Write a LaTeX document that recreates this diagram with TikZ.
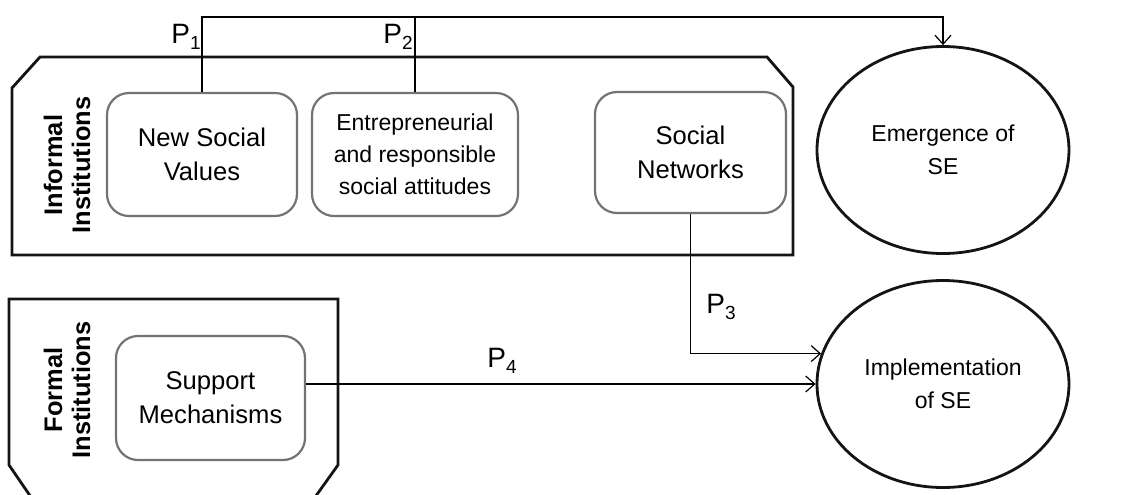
\documentclass[tikz,border=0pt]{standalone}
\usepackage{fontspec}
\setmainfont{Liberation Sans}
\usetikzlibrary{arrows.meta,shapes.geometric}
\definecolor{box_gray}{RGB}{115,115,115}
\definecolor{line_black}{RGB}{20,20,20}
\newcommand{\pname}[1]{P\raisebox{-0.42ex}{\fontsize{9.5}{9.5}\selectfont #1}}

\begin{document}
\begin{tikzpicture}[x=0.5pt,y=-0.5pt,>={Straight Barb[length=4.5pt,width=8pt]}]
    \tikzstyle{inner}=[draw=box_gray, line width=1.1pt, rounded corners=11pt, align=center, inner sep=0pt, font=\fontsize{12.8}{17}\selectfont]
    \tikzstyle{goal}=[draw=line_black, line width=1.4pt, ellipse, inner sep=0pt, minimum width=126pt, minimum height=103.5pt, align=center, font=\fontsize{11.5}{16.5}\selectfont]
    \tikzstyle{group}=[draw=line_black, line width=1.4pt]
    \tikzstyle{side}=[rotate=90, align=center, inner sep=0pt, font=\fontsize{12.7}{14}\selectfont\bfseries]
    \tikzstyle{plabel}=[font=\fontsize{14}{14}\selectfont, inner sep=0pt]
    \tikzstyle{link}=[->, line width=0.6pt]

    \useasboundingbox (0,0) rectangle (1148,494);

    % institution groups
    \draw[group] (12,255) -- (12,88) -- (40,57) -- (767,57) -- (793,87) -- (793,255) -- cycle;
    \draw[group] (33,500) -- (9,465) -- (9,299) -- (338,299) -- (338,465) -- (313,500);

    \node[side] (informal) at (67,165) {Informal\\Institutions};
    \node[side] (formal)   at (67,390) {Formal\\Institutions};

    \node[inner, minimum width=95pt, minimum height=61.5pt] (nsv)  at (202,154.5) {New Social\\Values};
    \node[inner, minimum width=103pt, minimum height=61.5pt, font=\fontsize{11.5}{16}\selectfont] (ersa) at (415,154.5) {Entrepreneurial\\and responsible\\social attitudes};
    \node[inner, minimum width=95.5pt, minimum height=60.5pt] (sn)   at (690.5,152.5) {Social\\Networks};
    \node[inner, minimum width=94.5pt, minimum height=62pt] (sm)   at (210.5,398) {Support\\Mechanisms};

    \node[goal] (emerge) at (943,150) {Emergence of\\SE};
    \node[goal] (impl)   at (943,384) {Implementation\\of SE};

    \coordinate (top) at (943,17);

    \draw[link] (nsv.north) |- (top) -- (emerge.north);
    \draw[line width=0.6pt] (ersa.north) -- (ersa.north |- top);
    \draw[link] (sn.south) |- (impl.166);
    \draw[link] (sm.east |- impl.west) -- (impl.west);

    \node[plabel, anchor=base east] (p1) at (201,43)  {\pname{1}};
    \node[plabel, anchor=base east] (p2) at (413,43)  {\pname{2}};
    \node[plabel, anchor=base west] (p3) at (706,313) {\pname{3}};
    \node[plabel, anchor=base west] (p4) at (487,367) {\pname{4}};
\end{tikzpicture}
\end{document}
